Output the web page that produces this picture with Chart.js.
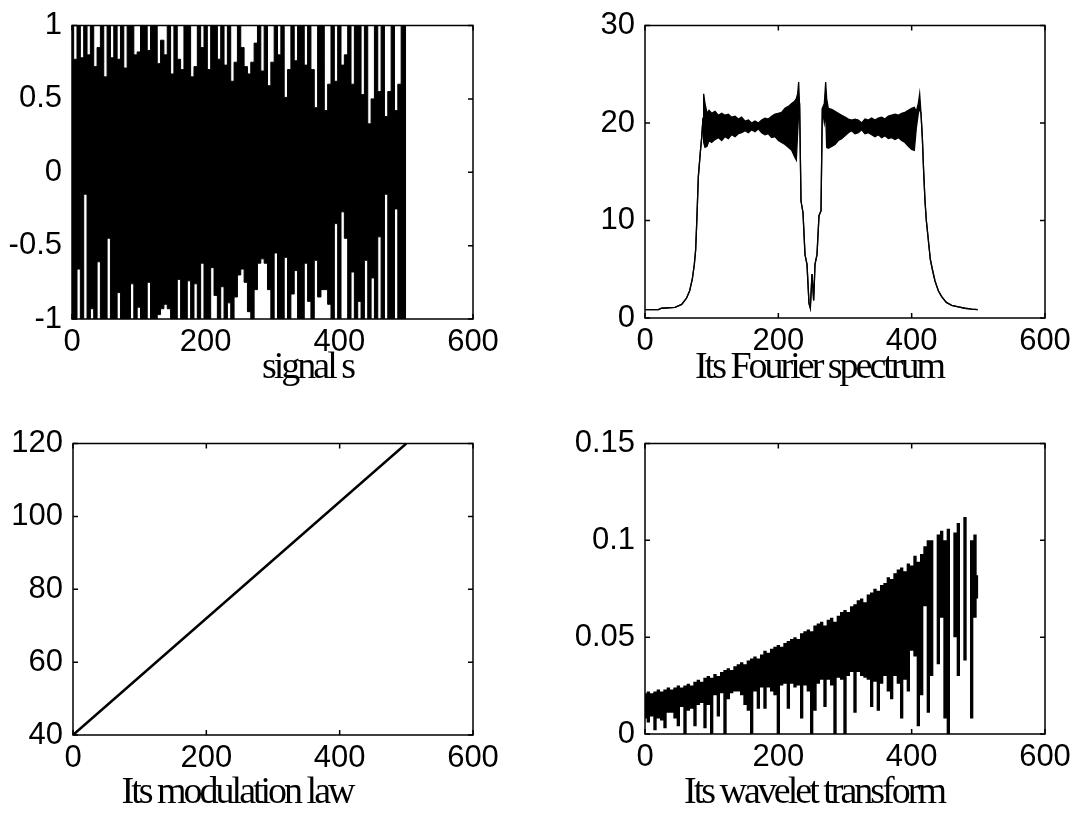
<!DOCTYPE html>
<html>
<head>
<meta charset="utf-8">
<script src="https://cdn.jsdelivr.net/npm/chart.js@4.4.0/dist/chart.umd.min.js"></script>
<style>
  html, body { margin: 0; padding: 0; background: #fff; }
  #wrap { position: relative; width: 1089px; height: 827px; overflow: hidden; }
  canvas { position: absolute; }
</style>
</head>
<body>
<div id="wrap">
  <canvas id="sig"  width="545" height="410" style="left:0;top:0"></canvas>
  <canvas id="spec" width="544" height="410" style="left:545px;top:0"></canvas>
  <canvas id="mod"  width="545" height="409" style="left:0;top:418px"></canvas>
  <canvas id="wav"  width="544" height="409" style="left:545px;top:418px"></canvas>
</div>
<script>
// signal s : per 5-sample column, highest and lowest value reached
var SIG_STEP = 5;
var sigTop = [
  1, 0.77, 1, 0.78, 1, 0.8, 1, 0.72, 0.85, 1,
  0.65, 1, 0.78, 1, 0.77, 1, 0.71, 1, 1, 0.8,
  0.82, 1, 1, 0.83, 1, 1, 0.74, 0.9, 0.8, 1,
  0.67, 1, 0.77, 0.7, 1, 1, 0.65, 0.72, 1, 0.85,
  1, 0.7, 1, 1, 0.77, 1, 0.73, 1, 0.62, 0.75,
  1, 0.85, 0.72, 0.67, 0.75, 0.88, 1, 0.69, 1, 0.59,
  0.75, 1, 0.8, 1, 0.51, 0.7, 1, 0.76, 1, 1,
  0.73, 1, 0.7, 0.44, 1, 1, 0.42, 0.6, 1, 0.62,
  1, 0.73, 0.8, 1, 0.6, 1, 1, 0.53, 1, 0.33,
  0.5, 1, 0.55, 1, 0.38, 0.55, 1, 0.42, 0.6, 1,
  1
];
var sigBot = [
  -1, -1, -0.66, -1, -0.15, -1, -0.93, -1, -0.61, -1,
  -1, -0.45, -1, -1, -0.82, -1, -1, -1, -0.76, -1,
  -0.92, -1, -1, -0.75, -1, -1, -0.97, -0.93, -0.9, -0.93,
  -1, -1, -0.73, -1, -1, -0.74, -1, -0.76, -1, -0.62,
  -1, -1, -0.65, -0.84, -1, -0.78, -1, -0.89, -1, -0.85,
  -0.7, -0.66, -0.75, -0.95, -1, -0.8, -0.62, -0.59, -0.62, -0.8,
  -1, -0.55, -1, -1, -0.58, -1, -0.83, -0.67, -1, -1,
  -0.62, -0.88, -1, -0.6, -0.85, -0.8, -0.8, -0.9, -1, -0.35,
  -1, -0.27, -0.45, -1, -0.68, -1, -0.88, -1, -0.6, -1,
  -0.72, -1, -0.44, -1, -0.15, -1, -1, -0.25, -1, -1,
  -1
];

// Fourier spectrum : upper and lower edge of the trace
var specX = [
  0, 20, 25, 45, 55, 62, 67, 71, 74, 76,
  78, 80, 83, 85, 87, 88, 90, 93, 96, 100,
  105, 110, 115, 120, 125, 130, 135, 140, 145, 150,
  155, 160, 165, 170, 175, 180, 185, 190, 195, 200,
  205, 210, 215, 220, 224, 227, 229, 230.5, 232, 234,
  237, 240, 243, 246, 248, 250.5, 253, 255, 258, 261,
  264, 266, 269, 271, 272.5, 275, 280, 285, 290, 295,
  300, 305, 310, 315, 320, 325, 330, 335, 340, 345,
  350, 355, 360, 365, 370, 375, 380, 385, 390, 395,
  400, 404, 407, 410, 412, 414, 416, 418, 420, 422,
  425, 428, 431, 435, 440, 445, 452, 460, 470, 480,
  490, 499
];
var specTop = [
  0.85, 0.85, 1.0, 1.1, 1.4, 2.0, 2.8, 4.0, 5.5, 7.0,
  10.5, 14.5, 17.0, 18.5, 20.5, 23.0, 22.0, 21.0, 21.3, 21.0,
  21.2, 20.8, 21.0, 20.8, 20.9, 20.6, 20.7, 20.4, 20.6, 20.2,
  20.3, 20.0, 20.2, 20.0, 20.3, 20.5, 20.4, 20.7, 20.9, 21.0,
  21.1, 21.5, 21.7, 22.0, 22.2, 22.5, 23.0, 24.2, 21.5, 12.0,
  10.8, 6.5, 5.5, 1.5, 1.0, 4.5, 1.8, 5.5, 6.5, 10.5,
  11.0, 21.5, 22.0, 24.2, 22.5, 21.5, 21.4, 21.2, 21.0, 20.8,
  20.6, 20.4, 20.3, 20.4, 20.3, 20.0, 20.4, 20.3, 20.5, 20.3,
  20.5, 20.6, 20.4, 20.7, 20.8, 20.9, 20.8, 21.0, 21.1, 21.3,
  21.5, 21.6, 21.2, 22.0, 23.0, 21.0, 18.5, 15.0, 12.0, 10.0,
  8.0, 6.0, 5.0, 3.8, 2.8, 2.2, 1.6, 1.3, 1.15, 1.0,
  0.9, 0.85
];
var specBot = [
  0.85, 0.85, 1.0, 1.1, 1.4, 2.0, 2.8, 4.0, 5.5, 7.0,
  10.5, 14.5, 17.0, 18.5, 20.5, 18.0, 17.5, 17.6, 18.2, 18.0,
  18.3, 18.5, 18.2, 18.6, 18.4, 18.8, 18.6, 18.9, 19.0, 19.2,
  19.0, 19.3, 19.1, 19.4, 19.0, 18.8, 18.9, 18.5, 18.6, 18.2,
  18.0, 17.8, 17.5, 17.2, 16.6, 16.2, 19.0, 21.0, 21.5, 12.0,
  10.8, 6.5, 5.5, 1.5, 1.0, 4.5, 1.8, 5.5, 6.5, 10.5,
  11.0, 21.5, 20.0, 21.0, 17.5, 17.4, 17.6, 17.8, 18.2, 18.4,
  18.7, 19.0, 19.2, 18.9, 19.0, 19.3, 18.9, 19.0, 18.8, 18.6,
  18.8, 18.5, 18.7, 18.4, 18.5, 18.3, 18.5, 18.2, 18.0, 17.6,
  17.3, 17.2, 19.5, 21.0, 21.5, 21.0, 18.5, 15.0, 12.0, 10.0,
  8.0, 6.0, 5.0, 3.8, 2.8, 2.2, 1.6, 1.3, 1.15, 1.0,
  0.9, 0.85
];

// modulation law
var modX = [0, 500];
var modY = [40, 120];

// wavelet transform : per 5-sample column, top and bottom of the ink
var WAV_STEP = 5;
var wavTop = [
  0.021, 0.022, 0.021, 0.022, 0.023, 0.022, 0.023, 0.024, 0.023, 0.024,
  0.025, 0.024, 0.025, 0.026, 0.025, 0.027, 0.028, 0.027, 0.029, 0.030,
  0.029, 0.031, 0.030, 0.032, 0.033, 0.034, 0.033, 0.035, 0.036, 0.037,
  0.036, 0.038, 0.039, 0.040, 0.039, 0.041, 0.043, 0.042, 0.044, 0.045,
  0.046, 0.045, 0.047, 0.048, 0.049, 0.050, 0.049, 0.052, 0.053, 0.054,
  0.053, 0.056, 0.057, 0.058, 0.056, 0.059, 0.060, 0.058, 0.061, 0.063,
  0.064, 0.063, 0.066, 0.067, 0.069, 0.070, 0.068, 0.072, 0.073, 0.075,
  0.074, 0.077, 0.078, 0.081, 0.080, 0.083, 0.085, 0.086, 0.084, 0.088,
  0.087, 0.092, 0.089, 0.093, 0.097, 0.100, 0.100, 0.098, 0.103, 0.105,
  0.100, 0.106, 0.108, 0.104, 0.109, 0.110, 0.112, 0.098, 0.100, 0.103,
  0.082
];
var wavBot = [
  0.008, 0.006, 0.009, 0.002, 0.008, 0.007, 0.003, 0.011, 0.011, 0.008,
  0.004, 0.014, 0.000, 0.012, 0.013, 0.004, 0.015, 0.016, 0.003, 0.015,
  0.000, 0.020, 0.009, 0.021, 0.000, 0.018, 0.021, 0.022, 0.022, 0.020,
  0.015, 0.012, 0.000, 0.022, 0.013, 0.024, 0.013, 0.024, 0.022, 0.020,
  0.000, 0.025, 0.026, 0.013, 0.026, 0.024, 0.025, 0.008, 0.025, 0.022,
  0.000, 0.012, 0.026, 0.028, 0.014, 0.028, 0.025, 0.000, 0.029, 0.028,
  0.000, 0.030, 0.032, 0.011, 0.032, 0.030, 0.029, 0.028, 0.014, 0.027,
  0.012, 0.026, 0.030, 0.022, 0.018, 0.030, 0.026, 0.008, 0.028, 0.022,
  0.043, 0.040, 0.004, 0.020, 0.066, 0.011, 0.030, 0.098, 0.036, 0.060,
  0.008, 0.000, 0.108, 0.050, 0.030, 0.110, 0.038, 0.098, 0.008, 0.060,
  0.070
];

var tickFont  = { family: "'Liberation Sans', Arial, sans-serif", size: 31, lineHeight: 1 };
var titleFont = { family: "'Liberation Serif', 'Times New Roman', serif", size: 38, lineHeight: 1 };

// matlab style box with inward ticks on all four sides
var frame = {
  id: 'frame',
  afterDraw: function (chart) {
    var ctx = chart.ctx, a = chart.chartArea, sx = chart.scales.x, sy = chart.scales.y;
    ctx.save();
    ctx.strokeStyle = '#000';
    ctx.lineWidth = 1.5;
    ctx.strokeRect(a.left, a.top, a.right - a.left, a.bottom - a.top);
    ctx.beginPath();
    sx.ticks.forEach(function (t) {
      var px = sx.getPixelForValue(t.value);
      ctx.moveTo(px, a.bottom); ctx.lineTo(px, a.bottom - 5);
      ctx.moveTo(px, a.top);    ctx.lineTo(px, a.top + 5);
    });
    sy.ticks.forEach(function (t) {
      var py = sy.getPixelForValue(t.value);
      ctx.moveTo(a.left, py);  ctx.lineTo(a.left + 5, py);
      ctx.moveTo(a.right, py); ctx.lineTo(a.right - 5, py);
    });
    ctx.stroke();
    ctx.restore();
  }
};

// the xlabels are set very tight (and a bit off centre) in the original
var squeezeTitle = {
  id: 'squeezeTitle',
  beforeDraw: function (chart, args, opts) {
    var sx = chart.scales.x;
    if (sx._squeezed) return;
    var orig = sx.drawTitle;
    var shift = opts.shift || 0;
    sx.drawTitle = function () {
      this.ctx.save();
      this.ctx.letterSpacing = '-3px';
      this.ctx.translate(shift, 0);
      orig.apply(this, arguments);
      this.ctx.restore();
    };
    sx._squeezed = true;
  }
};

function fmt(v) {
  return String(Math.round(v * 1e6) / 1e6);
}

function options(c) {
  return {
    responsive: false,
    animation: false,
    events: [],
    layout: { padding: { top: 20, right: c.padRight, left: 0, bottom: 0 } },
    plugins: {
      legend: { display: false },
      tooltip: { enabled: false },
      squeezeTitle: { shift: c.titleShift }
    },
    elements: { point: { radius: 0 } },
    scales: {
      x: {
        type: 'linear', min: 0, max: 600,
        grid: { display: false, drawTicks: false },
        border: { display: false },
        ticks: { stepSize: 200, padding: 8, color: '#000', font: tickFont, maxRotation: 0, autoSkip: false, callback: fmt },
        title: { display: true, text: c.title, color: '#000', font: titleFont, padding: { top: 0, bottom: c.titlePad } },
        afterFit: function (s) { s.height = c.xH; }
      },
      y: {
        type: 'linear', min: c.yMin, max: c.yMax,
        grid: { display: false, drawTicks: false },
        border: { display: false },
        ticks: { stepSize: c.yStep, padding: 10, color: '#000', font: tickFont, autoSkip: false, callback: fmt },
        afterFit: function (s) { s.width = c.yW; }
      }
    }
  };
}

function pts(xs, ys) {
  return ys.map(function (v, i) { return { x: xs[i], y: v }; });
}
function grid(step, ys) {
  return ys.map(function (v, i) { return { x: i * step, y: v }; });
}

// top left: signal s
new Chart(document.getElementById('sig'), {
  type: 'line',
  data: { datasets: [
    { data: grid(SIG_STEP, sigTop), stepped: 'middle', borderColor: '#000', borderWidth: 1, backgroundColor: '#000', fill: '+1' },
    { data: grid(SIG_STEP, sigBot), stepped: 'middle', borderColor: '#000', borderWidth: 1, fill: false }
  ]},
  options: options({ title: 'signal s', titleShift: 35, yMin: -1, yMax: 1, yStep: 0.5, yW: 72, xH: 91, padRight: 72, titlePad: 23 }),
  plugins: [squeezeTitle, frame]
});

// top right: Its Fourier spectrum
new Chart(document.getElementById('spec'), {
  type: 'line',
  data: { datasets: [
    { data: pts(specX, specTop), borderColor: '#000', borderWidth: 1.3, backgroundColor: '#000', fill: '+1', tension: 0 },
    { data: pts(specX, specBot), borderColor: '#000', borderWidth: 1.3, fill: false, tension: 0 }
  ]},
  options: options({ title: 'Its Fourier spectrum', titleShift: -26, yMin: 0, yMax: 30, yStep: 10, yW: 100, xH: 92, padRight: 44, titlePad: 23 }),
  plugins: [squeezeTitle, frame]
});

// bottom left: Its modulation law
new Chart(document.getElementById('mod'), {
  type: 'line',
  data: { datasets: [
    { data: pts(modX, modY), borderColor: '#000', borderWidth: 2.5, fill: false }
  ]},
  options: options({ title: 'Its modulation law', titleShift: -36, yMin: 40, yMax: 120, yStep: 20, yW: 73, xH: 92, padRight: 72, titlePad: 15 }),
  plugins: [squeezeTitle, frame]
});

// bottom right: Its wavelet transform
new Chart(document.getElementById('wav'), {
  type: 'line',
  data: { datasets: [
    { data: grid(WAV_STEP, wavTop), stepped: 'middle', borderColor: 'rgba(0,0,0,0)', borderWidth: 1, backgroundColor: '#000', fill: '+1' },
    { data: grid(WAV_STEP, wavBot), stepped: 'middle', borderColor: 'rgba(0,0,0,0)', borderWidth: 1, fill: false }
  ]},
  options: options({ title: 'Its wavelet transform', titleShift: -31, yMin: 0, yMax: 0.15, yStep: 0.05, yW: 100, xH: 93, padRight: 44, titlePad: 15 }),
  plugins: [squeezeTitle, frame]
});
</script>
</body>
</html>
